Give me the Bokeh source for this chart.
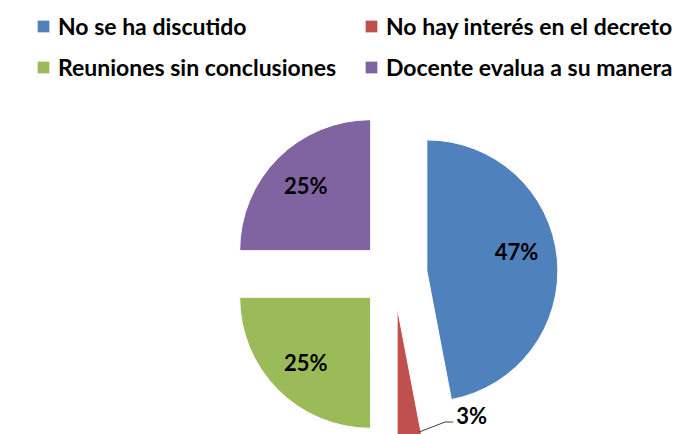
import math
from bokeh.plotting import figure
from bokeh.models import ColumnDataSource, Range1d, Legend, LegendItem
from bokeh.core.properties import value
from bokeh.embed import file_html
from bokeh.resources import INLINE

# ---- data ----
categories = ["No se ha discutido", "No hay interés en el decreto",
              "Reuniones sin conclusiones", "Docente evalua a su manera"]
percents = [47, 3, 25, 25]
labels = ["47%", "3%", "25%", "25%"]
colors = ["#4F81BD", "#C0504D", "#9BBB59", "#8064A2"]

# ---- layout (pixel-like data space, y up = -image y) ----
W, H = 694, 434
cx, cy = 393.5, -273.5
R = 131.0
EXPLODE = 33.0
FONT = "Lato"

p = figure(width=W, height=H, output_backend="svg", toolbar_location=None,
           x_range=Range1d(0, W), y_range=Range1d(-H, 0),
           min_border=0, outline_line_color=None)
p.axis.visible = False
p.grid.visible = False
p.background_fill_color = "white"
p.border_fill_color = "white"

total = float(sum(percents))
starts, ends, xs, ys, mids = [], [], [], [], []
a = math.pi / 2
for v in percents:
    sweep = v / total * 2 * math.pi
    a_end = a - sweep  # clockwise
    mid = (a + a_end) / 2
    xs.append(cx + EXPLODE * math.cos(mid))
    ys.append(cy + EXPLODE * math.sin(mid))
    starts.append(a_end)
    ends.append(a)
    mids.append(mid)
    a = a_end

src = ColumnDataSource(dict(x=xs, y=ys, start=starts, end=ends, color=colors,
                            cat=categories))
r = p.wedge(x="x", y="y", radius=R, start_angle="start", end_angle="end",
            direction="anticlock", fill_color="color", line_color="white",
            line_width=1, source=src)

# inside labels
lx, ly, lt = [], [], []
for i, v in enumerate(percents):
    if v >= 10:
        ang = mids[i] + (math.radians(7) if v > 40 else 0)
        lx.append(xs[i] + 0.70 * R * math.cos(ang))
        ly.append(ys[i] + 0.70 * R * math.sin(ang))
        lt.append(labels[i])
p.text(x=lx, y=ly, text=lt, text_font=value(FONT), text_font_style="bold",
       text_font_size="22px", text_align="center", text_baseline="middle",
       text_color="black")

# outside label for small slice with leader line
for i, v in enumerate(percents):
    if v < 10:
        ang = ends[i] - math.radians(0.8)
        sx = xs[i] + 0.97 * R * math.cos(ang)
        sy = ys[i] + 0.97 * R * math.sin(ang)
        ex, ey = sx + 26, sy + 10
        fx = ex + 8
        p.line(x=[sx, ex, fx], y=[sy, ey, ey], line_color="#404040", line_width=1)
        p.text(x=[fx + 3], y=[ey + 6], text=[labels[i]], text_font=value(FONT),
               text_font_style="bold", text_font_size="22px", text_align="left",
               text_baseline="middle", text_color="black")

items = [LegendItem(label=categories[i], renderers=[r], index=i)
         for i in range(len(categories))]
legend = Legend(items=items, location=(35, 434 - 81), orientation="horizontal",
                ncols=2, label_text_font=FONT, label_text_font_style="bold",
                label_text_font_size="23px", label_text_color="black",
                glyph_width=16, glyph_height=16,
                label_standoff=7, spacing=13, padding=0, margin=0,
                label_height=22, label_width=292, border_line_color=None,
                background_fill_alpha=0)
p.add_layout(legend)

open("out.html", "w").write(file_html(p, INLINE))
